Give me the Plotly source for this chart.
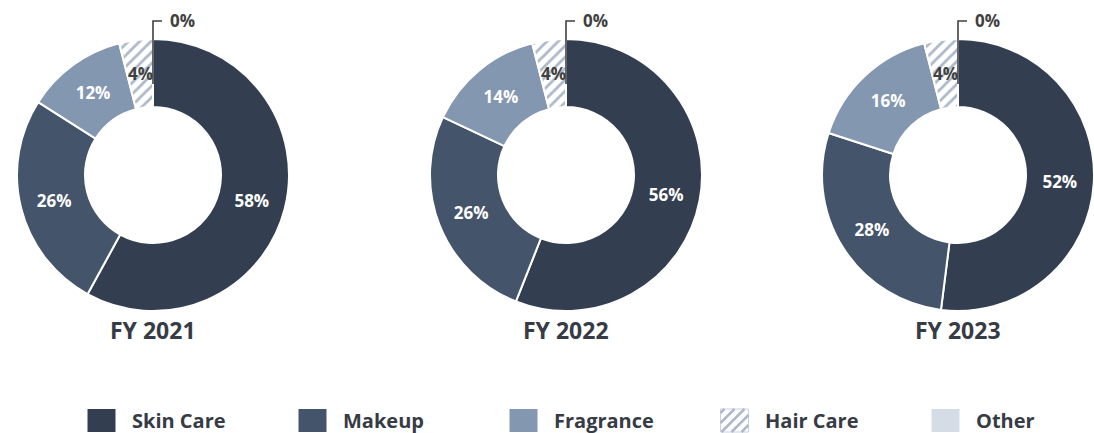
import math
import plotly.graph_objects as go

# ---- data ----
categories = ["Skin Care", "Makeup", "Fragrance", "Hair Care", "Other"]
years = ["FY 2021", "FY 2022", "FY 2023"]
skin_care = [58, 56, 52]
makeup = [26, 26, 28]
fragrance = [12, 14, 16]
hair_care = [4, 4, 4]
other = [0, 0, 0]

# ---- styling ----
colors = ["#333f50", "#44546a", "#8497b0", "#ffffff", "#d6dce5"]
pattern_shapes = ["", "", "", "/", ""]
pattern_fg = ["#333f50", "#44546a", "#8497b0", "#adb9ca", "#d6dce5"]
pattern_bg = ["#333f50", "#44546a", "#8497b0", "#ffffff", "#d6dce5"]
FONT = "Open Sans"
TXT = "#363b45"
DARK = "#404040"

W, H = 1094, 433
centers_x = [153, 566, 958]
cy = 175
r = 136
hole = 0.5


def px(x):
    return x / W


def py(y):
    return 1 - y / H


fig = go.Figure()
shapes = []
annotations = []
for i, yr in enumerate(years):
    cx = centers_x[i]
    vals = [skin_care[i], makeup[i], fragrance[i], hair_care[i], other[i]]
    fig.add_trace(go.Pie(
        labels=categories,
        values=vals,
        sort=False,
        direction="clockwise",
        rotation=0,
        hole=hole,
        domain=dict(x=[px(cx - r), min(1, px(cx + r))], y=[py(cy + r), py(cy - r)]),
        marker=dict(colors=colors, line=dict(color="white", width=2),
                    pattern=dict(shape=pattern_shapes, fgcolor=pattern_fg, bgcolor=pattern_bg,
                                 size=8, solidity=0.35)),
        texttemplate="%{value}%",
        textposition=["inside", "inside", "inside", "none", "none"],
        insidetextorientation="horizontal",
        insidetextfont=dict(family=FONT, size=17, color="white", weight="bold"),
        hoverinfo="label+value",
        showlegend=False,
        name=yr,
    ))
    # label of the small hatched slice, placed at the slice's mid angle / mid radius
    total = sum(vals)
    mid = (skin_care[i] + makeup[i] + fragrance[i] + hair_care[i] / 2) / total * 2 * math.pi
    rm = r * (1 + hole) / 2
    annotations.append(dict(x=px(cx + rm * math.sin(mid)), y=py(cy - rm * math.cos(mid)),
                            xref="paper", yref="paper", text=f"{hair_care[i]}%", showarrow=False,
                            xanchor="center", yanchor="middle",
                            font=dict(family=FONT, size=17, color=DARK, weight="bold")))
    # year title
    annotations.append(dict(x=px(cx), y=py(330), xref="paper", yref="paper",
                            text=yr, showarrow=False, xanchor="center", yanchor="middle",
                            font=dict(family=FONT, size=23, color=TXT, weight="bold")))
    # callout for the 0% slice
    shapes.append(dict(type="path", xref="paper", yref="paper",
                       path=f"M {px(cx)},{py(84)} L {px(cx)},{py(21)} L {px(cx + 9)},{py(21)}",
                       line=dict(color=DARK, width=1.6)))
    annotations.append(dict(x=px(cx + 15), y=py(21), xref="paper", yref="paper",
                            text=f"{other[i]}%", showarrow=False, xanchor="left", yanchor="middle",
                            font=dict(family=FONT, size=17, color=DARK, weight="bold")))

# ---- legend (drawn as layout decoration) ----
leg_x0, leg_step, leg_y = 101.5, 211, 420.5
sq_w, sq_h = 28, 23
for k, cat in enumerate(categories):
    cxl = leg_x0 + k * leg_step
    x0, x1 = cxl - sq_w / 2, cxl + sq_w / 2
    ya, yb = leg_y - sq_h / 2, leg_y + sq_h / 2
    if pattern_shapes[k]:
        shapes.append(dict(type="rect", xref="paper", yref="paper",
                           x0=px(x0), x1=px(x1), y0=py(yb), y1=py(ya),
                           fillcolor="white", line=dict(color="#c9d1dc", width=1)))
        c = x0 + ya + 4
        while c < x1 + yb:
            xs = max(x0, c - yb)
            xe = min(x1, c - ya)
            if xe > xs:
                shapes.append(dict(type="line", xref="paper", yref="paper",
                                   x0=px(xs), y0=py(c - xs), x1=px(xe), y1=py(c - xe),
                                   line=dict(color=pattern_fg[k], width=2.5)))
            c += 10
    else:
        shapes.append(dict(type="rect", xref="paper", yref="paper",
                           x0=px(x0), x1=px(x1), y0=py(yb), y1=py(ya),
                           fillcolor=colors[k], line=dict(width=0)))
    annotations.append(dict(x=px(cxl + 28), y=py(leg_y), xref="paper", yref="paper",
                            text=cat, showarrow=False, xanchor="left", yanchor="middle",
                            font=dict(family=FONT, size=20, color=TXT, weight="bold")))

fig.update_layout(
    width=W, height=H,
    margin=dict(l=0, r=0, t=0, b=0),
    paper_bgcolor="white", plot_bgcolor="white",
    shapes=shapes, annotations=annotations,
    uniformtext=dict(minsize=17, mode="show"),
    showlegend=False,
)

fig.write_html("out.html")
